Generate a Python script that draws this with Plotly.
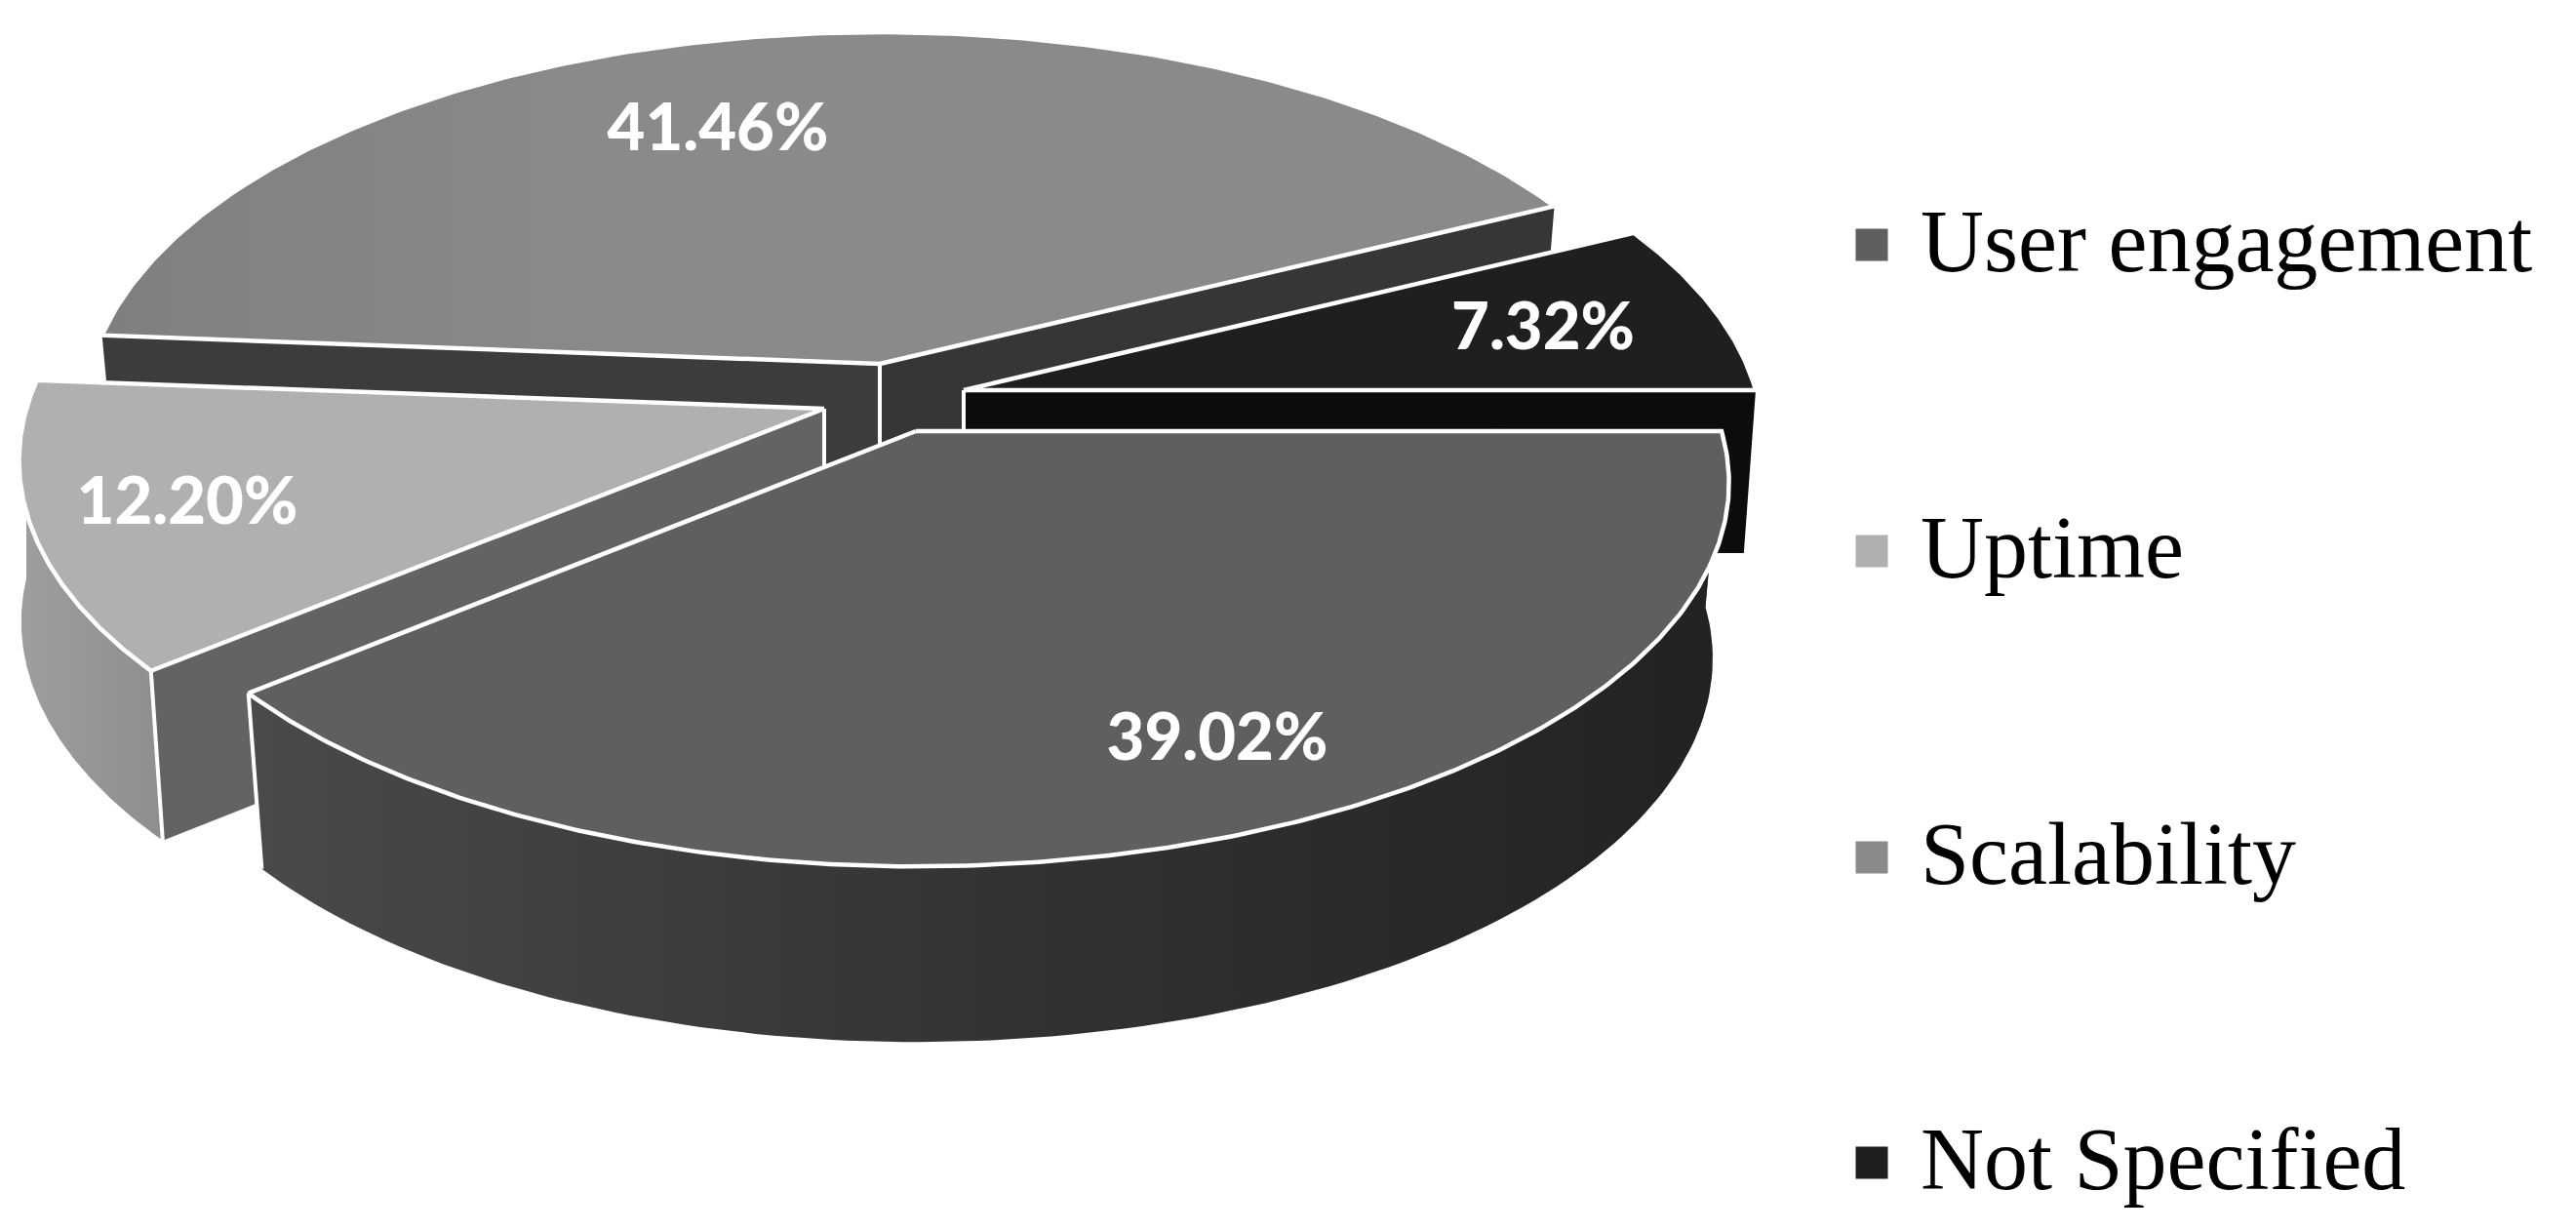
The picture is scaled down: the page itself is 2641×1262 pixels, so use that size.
import numpy as np
import plotly.graph_objects as go

# ---- data ----
categories = ["User engagement", "Uptime", "Scalability", "Not Specified"]
shares = [39.02, 12.20, 41.46, 7.32]

# ---- styles / projection geometry (axes are in picture units) ----
W, H = 2641, 1262
RX, RY, PERSP = 818.0, 386.0, 0.135
APEX = {"User engagement": (939, 442), "Uptime": (845, 419),
        "Scalability": (902, 373), "Not Specified": (988, 400)}
RX_RIGHT = {"User engagement": 826.0, "Not Specified": 812.0}
RX_LEFT = {"User engagement": 811.0, "Scalability": 808.0, "Uptime": 818.0}
DEPTH = {"User engagement": 180, "Uptime": 174, "Scalability": 170, "Not Specified": 167}
BOTTOM_SCALE = {"User engagement": 0.98, "Uptime": 1.0, "Scalability": 0.98, "Not Specified": 0.985}
BOTTOM_SHIFT = {"User engagement": 0, "Uptime": 19, "Scalability": 0, "Not Specified": 0}
TOP_COLOR = {"User engagement": "#5f5f5f", "Uptime": "#b0b0b0",
             "Scalability": "#8a8a8a", "Not Specified": "#1f1f1f"}
TOP_GRAD = {"Scalability": [[0, "#7f7f7f"], [0.35, "#8a8a8a"], [1, "#8a8a8a"]]}
LEGEND_COLOR = TOP_COLOR
RADIAL_COLOR = {"User engagement": ("#5a5a5a", "#5a5a5a"), "Uptime": ("#636363", "#636363"),
                "Scalability": ("#363636", "#3c3c3c"), "Not Specified": ("#0c0c0c", "#0c0c0c")}
OUTER_GRAD = {"User engagement": [[0, "#4a4a4a"], [0.5, "#333333"], [1, "#222222"]],
              "Uptime": [[0, "#9e9e9e"], [1, "#8e8e8e"]]}
LABEL_XY = {"User engagement": (1248, 762), "Uptime": (192, 520),
            "Scalability": (736, 137), "Not Specified": (1582, 341)}
LEGEND_Y = [255, 569, 883, 1196]
LEGEND_MARK_Y = [251, 565, 879, 1192]
LEGEND_MARK_X, LEGEND_TEXT_X = 1919, 1969
EDGE_W = 4.5
DRAW_ORDER = ["Scalability", "Not Specified", "Uptime", "User engagement"]

# slice angles, clockwise from east, taken from the shares
spans = np.array(shares) / sum(shares) * 360.0
ends = np.cumsum(spans)
starts = ends - spans
ANGLES = {c: (s, e) for c, s, e in zip(categories, starts, ends)}


def project(name, deg, depth=0.0):
    """Project a rim point of the named slice on to the picture plane."""
    a = np.radians(np.asarray(deg, dtype=float))
    X, Y = np.cos(a), np.sin(a)
    s = 1.0 / (1.0 - PERSP * Y)
    rx = np.where(X > 0, RX_RIGHT.get(name, RX), RX_LEFT.get(name, RX))
    ax, ay = APEX[name]
    scale = BOTTOM_SCALE[name] if depth else 1.0
    shift = BOTTOM_SHIFT[name] * np.maximum(Y, 0.0) if depth else 0.0
    return ax + X * s * rx * scale + shift, ay + Y * s * RY + depth


def polygon(xs, ys, color=None, grad=None, line=None):
    kw = dict(x=list(xs), y=list(ys), mode="lines", fill="toself", hoverinfo="skip",
              showlegend=False, line=dict(color=line or "rgba(0,0,0,0)", width=EDGE_W if line else 0))
    if grad:
        kw["fillgradient"] = dict(type="horizontal", colorscale=grad)
    else:
        kw["fillcolor"] = color
    return go.Scatter(**kw)


def seg(fig, xs, ys):
    fig.add_trace(go.Scatter(x=xs, y=ys, mode="lines", hoverinfo="skip", showlegend=False,
                             line=dict(color="#ffffff", width=EDGE_W - 0.5)))


fig = go.Figure()
for name in DRAW_ORDER:
    a0, a1 = ANGLES[name]
    ax, ay = APEX[name]
    d = DEPTH[name]
    bx, by = ax, ay + d
    # radial walls
    for ang, col in zip((a1, a0), RADIAL_COLOR[name]):
        tx, ty = project(name, ang)
        dx, dy = project(name, ang, d)
        fig.add_trace(polygon([ax, tx, dx, bx, ax], [ay, ty, dy, by, ay], color=col))
    # outer wall (only the part facing the viewer)
    lo, hi = max(a0, 0.0), min(a1, 180.0)
    if hi > lo:
        arc = np.linspace(lo, hi, 120)
        tx, ty = project(name, arc)
        dx, dy = project(name, arc, d)
        xs = np.concatenate([tx, dx[::-1], tx[:1]])
        ys = np.concatenate([ty, dy[::-1], ty[:1]])
        fig.add_trace(polygon(xs, ys, grad=OUTER_GRAD.get(name),
                              color=None if name in OUTER_GRAD else "#0c0c0c"))
    # vertical white edges
    if name == "Uptime":
        tx, ty = project(name, a0)
        dx, dy = project(name, a0, d)
        seg(fig, [float(tx), float(dx)], [float(ty), float(dy)])
    if name == "User engagement":
        tx, ty = project(name, a1)
        dx, dy = project(name, a1, d)
        seg(fig, [float(tx), float(dx)], [float(ty), float(dy)])
    seg(fig, [ax, bx], [ay, by])
    # top face
    arc = np.linspace(a0, a1, 300)
    tx, ty = project(name, arc)
    fig.add_trace(polygon(np.concatenate([[ax], tx, [ax]]), np.concatenate([[ay], ty, [ay]]),
                          color=TOP_COLOR[name], grad=TOP_GRAD.get(name), line="#ffffff"))

# data labels
fig.add_trace(go.Scatter(
    x=[LABEL_XY[c][0] for c in categories], y=[LABEL_XY[c][1] for c in categories],
    text=[f"{v:.2f}%" for v in shares], mode="text", hoverinfo="skip", showlegend=False,
    textposition="middle center",
    textfont=dict(family="Lato", size=67, color="#ffffff", weight=900)))

# legend
fig.add_trace(go.Scatter(
    x=[LEGEND_MARK_X] * 4, y=LEGEND_MARK_Y, mode="markers", hoverinfo="skip", showlegend=False,
    marker=dict(symbol="square", size=33, color=[LEGEND_COLOR[c] for c in categories], line=dict(width=0))))
fig.add_trace(go.Scatter(
    x=[LEGEND_TEXT_X] * 4, y=LEGEND_Y, text=categories, mode="text", hoverinfo="skip", showlegend=False,
    textposition="middle right",
    textfont=dict(family="Liberation Serif", size=90, color="#000000")))

fig.update_layout(
    width=W, height=H, margin=dict(l=0, r=0, t=0, b=0), autosize=False,
    paper_bgcolor="#ffffff", plot_bgcolor="#ffffff", showlegend=False,
    xaxis=dict(range=[0, W], visible=False, fixedrange=True),
    yaxis=dict(range=[H, 0], visible=False, fixedrange=True),
)
fig.write_html("out.html", config={"displayModeBar": False},
               post_script="document.body.style.margin='0';document.body.style.overflow='hidden';")
